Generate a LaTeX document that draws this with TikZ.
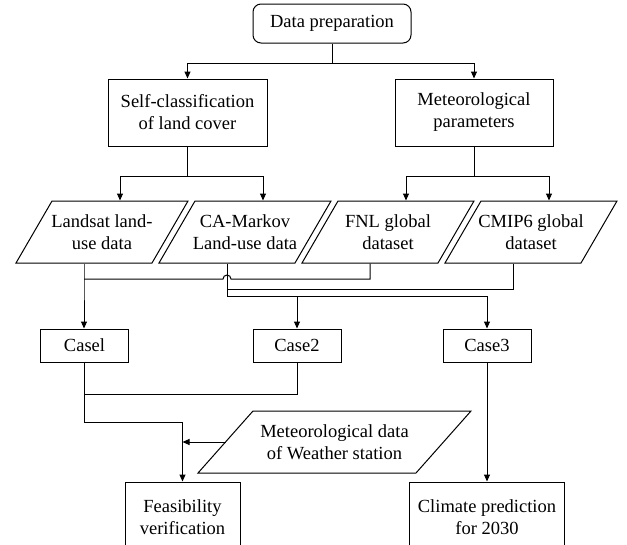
\documentclass[tikz,border=0pt]{standalone}
\usepackage{fontspec}
\setmainfont{Liberation Serif}
\usetikzlibrary{arrows.meta}

\begin{document}
\begin{tikzpicture}[x=1pt, y=-1pt, line width=1pt,
    every node/.style={font=\fontsize{18.5}{22}\selectfont, align=center, inner sep=2pt},
    box/.style={draw, rectangle, minimum width=#1, minimum height=67},
    casebox/.style={draw, rectangle, minimum width=88, minimum height=33},
    datain/.style={rectangle, inner sep=0pt, minimum height=62},
    arr/.style={-{Triangle[length=7pt,width=6pt]}}]

    \clip (0,0) rectangle (627,544);

    \node[draw, rounded corners=8pt, minimum width=158, minimum height=39] (prep) at (332,23.5) {Data preparation};

    \node[box=159] (selfcls) at (187.5,112.5) {Self-classification\\of land cover};
    \node[box=158] (metpar) at (474,112.5) {Meteorological\\parameters};

    \node[datain] (landsat) at (102,232) {Landsat land-\\use data};
    \node[datain] (camarkov) at (245,232) {CA-Markov\\Land-use data};
    \node[datain] (fnl) at (388,232) {FNL global\\dataset};
    \node[datain] (cmip) at (531,232) {CMIP6 global\\dataset};
    \node[datain] (metdata) at (334.5,442) {Meteorological data\\of Weather station};

    % parallelograms
    \foreach \n in {landsat,camarkov,fnl,cmip}
        \draw ([shift={(-86,31)}]\n.center) -- ([shift={(-50,-31)}]\n.center) -- ([shift={(86,-31)}]\n.center) -- ([shift={(50,31)}]\n.center) -- cycle;
    \draw ([shift={(-136.5,31)}]metdata.center) -- ([shift={(-81.5,-31)}]metdata.center) -- ([shift={(136.5,-31)}]metdata.center) -- ([shift={(81.5,31)}]metdata.center) -- cycle;

    \node[casebox] (case1) at (84.5,345.5) {Casel};
    \node[casebox] (case2) at (297,345.5) {Case2};
    \node[casebox] (case3) at (487,345.5) {Case3};

    \node[box=115, minimum height=70] (feas) at (182.5,517) {Feasibility\\verification};
    \node[box=155, minimum height=70] (climate) at (487,517) {Climate prediction\\for 2030};

    % forks
    \coordinate (prepfork) at (prep.south |- 0,63);
    \coordinate (clsfork) at (selfcls.south |- 0,176);
    \coordinate (parfork) at (metpar.south |- 0,176);

    \draw (prep.south) -- (prepfork);
    \draw[arr] (prepfork) -| (selfcls.north);
    \draw[arr] (prepfork) -| (metpar.north);

    \draw (selfcls.south) -- (clsfork);
    \draw[arr] (clsfork) -| ([xshift=18pt]landsat.north);
    \draw[arr] (clsfork) -| ([xshift=18pt]camarkov.north);
    \draw (metpar.south) -- (parfork);
    \draw[arr] (parfork) -| ([xshift=18pt]fnl.north);
    \draw[arr] (parfork) -| ([xshift=18pt]cmip.north);

    % data to cases
    \coordinate (lsout) at ([xshift=-18pt]landsat.south);
    \coordinate (cmout) at ([xshift=-18pt]camarkov.south);
    \coordinate (fnljoin) at (lsout |- 0,279);
    \coordinate (hop) at (cmout |- 0,279);
    \coordinate (cmipjoin) at (cmout |- 0,289);
    \coordinate (cmfork) at (cmout |- 0,296);

    \draw[arr] (lsout) -- (fnljoin) -- (case1.north -| lsout);
    \draw ([xshift=-18pt]fnl.south) |- ([xshift=4pt]hop) arc[start angle=0, end angle=-180, radius=4] -- (fnljoin);
    \draw ([xshift=-18pt]cmip.south) |- (cmipjoin);
    \draw[arr] (cmout) -- (cmfork) -| (case3.north);
    \draw[arr] (case2.north |- cmfork) -- (case2.north);

    % cases to results
    \coordinate (c2join) at (case1.south |- 0,394);
    \coordinate (feasbend) at (case1.south |- 0,422);

    \draw (case2.south) |- (c2join);
    \draw[arr] (case1.south) -- (feasbend) -| (feas.north);
    \draw[arr] ([xshift=-109pt]metdata.center) -- (feas.north |- metdata.center);
    \draw[arr] (case3.south) -- (climate.north);

\end{tikzpicture}
\end{document}
